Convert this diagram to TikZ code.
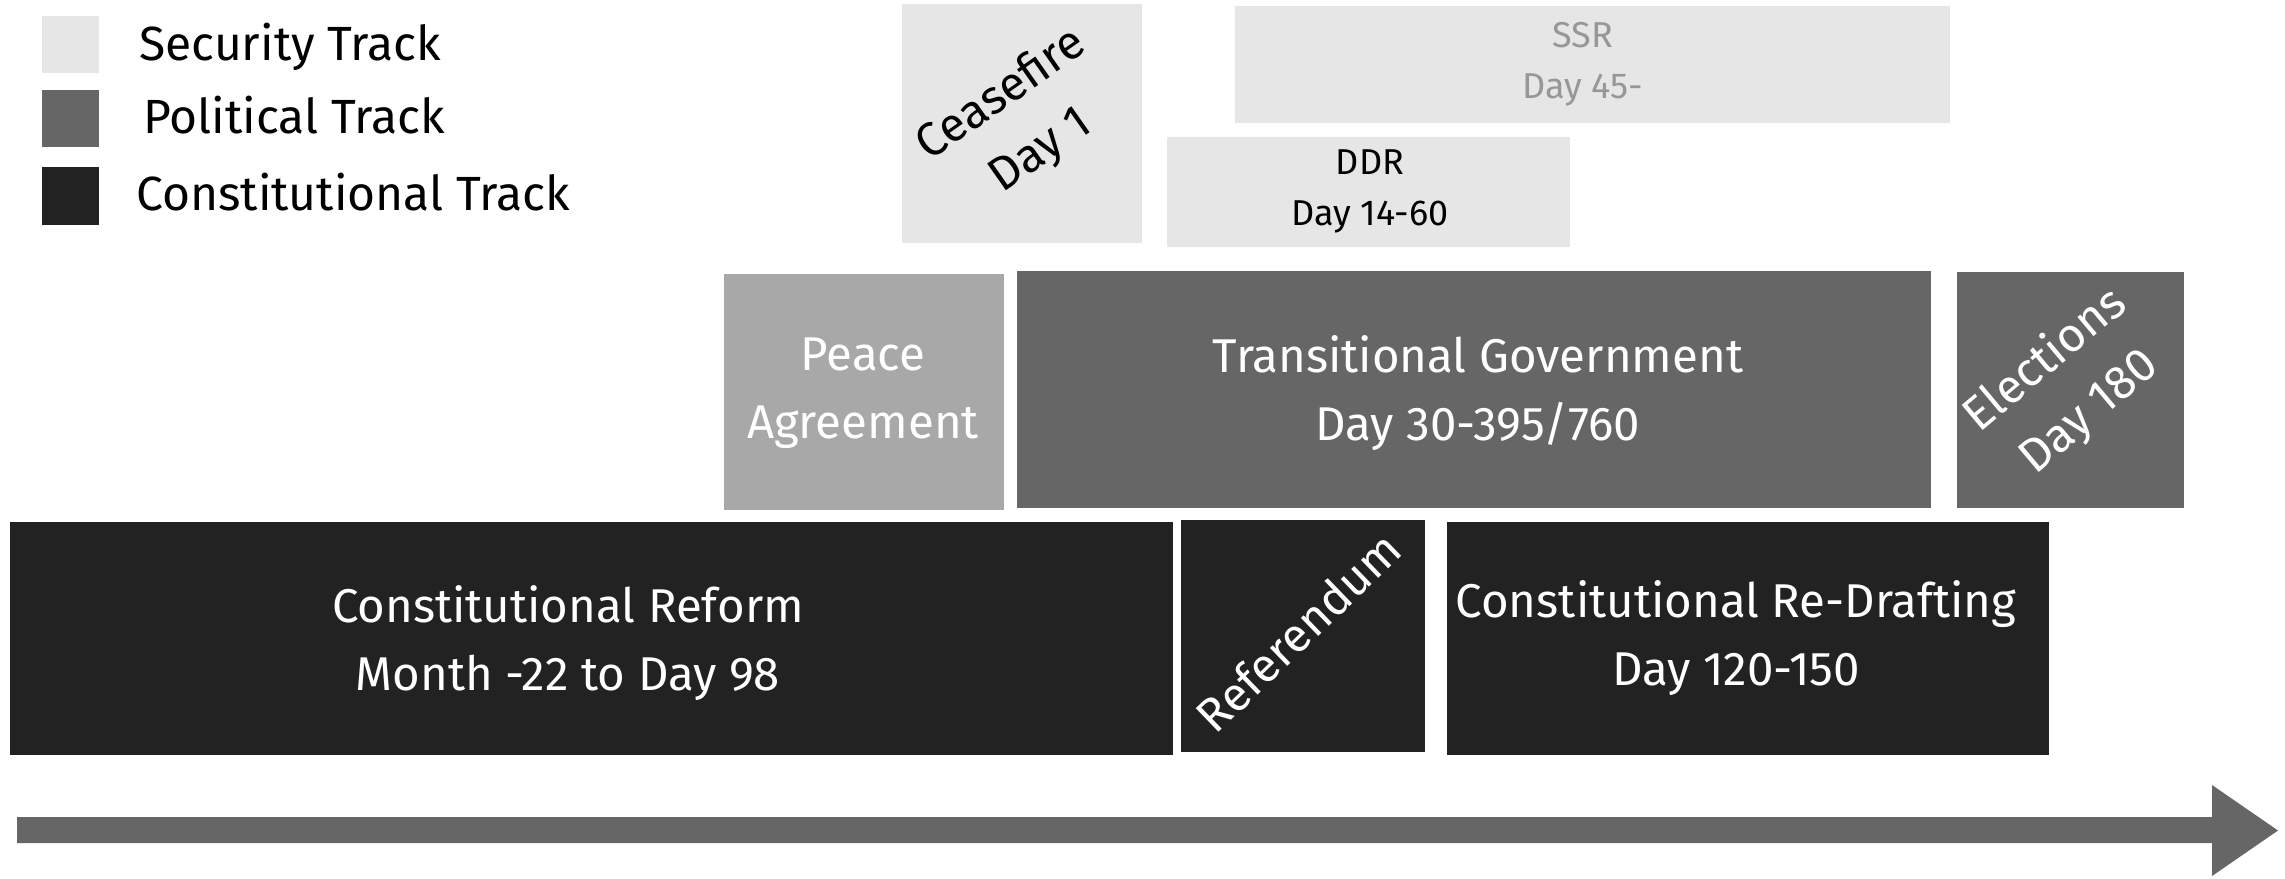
\documentclass[tikz,border=0pt]{standalone}
\usepackage{fontspec}
\setmainfont{Fira Sans}
\definecolor{secgray}{HTML}{E6E6E6}
\definecolor{polgray}{HTML}{666666}
\definecolor{congray}{HTML}{222222}
\definecolor{peacegray}{HTML}{A8A8A8}
\definecolor{ssrtext}{HTML}{979797}
\definecolor{timegray}{HTML}{666666}
% two lines with fixed ascender/descender struts so the block centres evenly
\newcommand\twol[2]{\rule{0pt}{0.75em}#1\\#2\rule[-0.25em]{0pt}{0.25em}}
\newcommand\onel[1]{\rule{0pt}{0.75em}#1\rule[-0.25em]{0pt}{0.25em}}
\begin{document}
\begin{tikzpicture}[x=1pt,y=-1pt,
  box/.style={rectangle,draw=none,inner sep=0pt,outer sep=0pt},
  secbox/.style={box,fill=secgray},
  polbox/.style={box,fill=polgray},
  conbox/.style={box,fill=congray},
  peacebox/.style={box,fill=peacegray},
  big/.style={font=\fontsize{47.4}{68}\selectfont,align=center,inner sep=0pt},
  small/.style={font=\fontsize{36}{51}\selectfont,align=center,inner sep=0pt},
  legtext/.style={font=\fontsize{48}{60}\selectfont,anchor=base west,inner sep=0pt,text=black},
]
\useasboundingbox (0,0) rectangle (2285,878);

% legend
\node[secbox,minimum width=57pt,minimum height=57pt] (legsec) at (70.5,44.5) {};
\node[polbox,minimum width=57pt,minimum height=57pt] (legpol) at (70.5,118.5) {};
\node[conbox,minimum width=57pt,minimum height=58pt] (legcon) at (70.5,196) {};
\node[legtext] (legsecT) at (139,60) {Security Track};
\node[legtext] (legpolT) at (143,133) {Political Track};
\node[legtext] (legconT) at (136,210) {Constitutional Track};

% security track
\node[secbox,minimum width=240pt,minimum height=239pt] (cease) at (1022,123.5) {};
\node[big,rotate=35,text=black] (ceaseT) at (1022,124) {\twol{Ceasefire}{Day 1}};
\node[secbox,minimum width=715pt,minimum height=117pt] (ssr) at (1592.5,64.5) {};
\node[small,text=ssrtext] (ssrT) at (1583,64) {\twol{SSR}{Day 45-}};
\node[secbox,minimum width=403pt,minimum height=110pt] (ddr) at (1368.5,192) {};
\node[small,text=black] (ddrT) at (1370,190.5) {\twol{DDR}{Day 14-60}};

% political track
\node[peacebox,minimum width=280pt,minimum height=236pt] (peace) at (864,392) {};
\node[big,text=white] (peaceT) at (863,393) {\twol{Peace}{Agreement}};
\node[polbox,minimum width=914pt,minimum height=237pt] (trans) at (1474,389.5) {};
\node[big,text=white] (transT) at (1478,393.5) {\twol{Transitional Government}{Day 30-395/760}};
\node[polbox,minimum width=227pt,minimum height=236pt] (elect) at (2070.5,390) {};
\node[big,rotate=40,text=white] (electT) at (2068,387) {\twol{Elections}{Day 180}};

% constitutional track
\node[conbox,minimum width=1163pt,minimum height=233pt] (reform) at (591.5,638.5) {};
\node[big,text=white] (reformT) at (568,644) {\twol{Constitutional Reform}{Month -22 to Day 98}};
\node[conbox,minimum width=244pt,minimum height=232pt] (refer) at (1303,636) {};
\node[big,rotate=44,text=white] (referT) at (1302,636) {\onel{Referendum}};
\node[conbox,minimum width=602pt,minimum height=233pt] (redraft) at (1748,638.5) {};
\node[big,text=white] (redraftT) at (1736,639) {\twol{Constitutional Re-Drafting}{Day 120-150}};

% time axis
\fill[timegray] (17,817) -- (2212,817) -- (2212,785) -- (2278,830.5)
  -- (2212,876) -- (2212,843) -- (17,843) -- cycle;
\end{tikzpicture}
\end{document}
